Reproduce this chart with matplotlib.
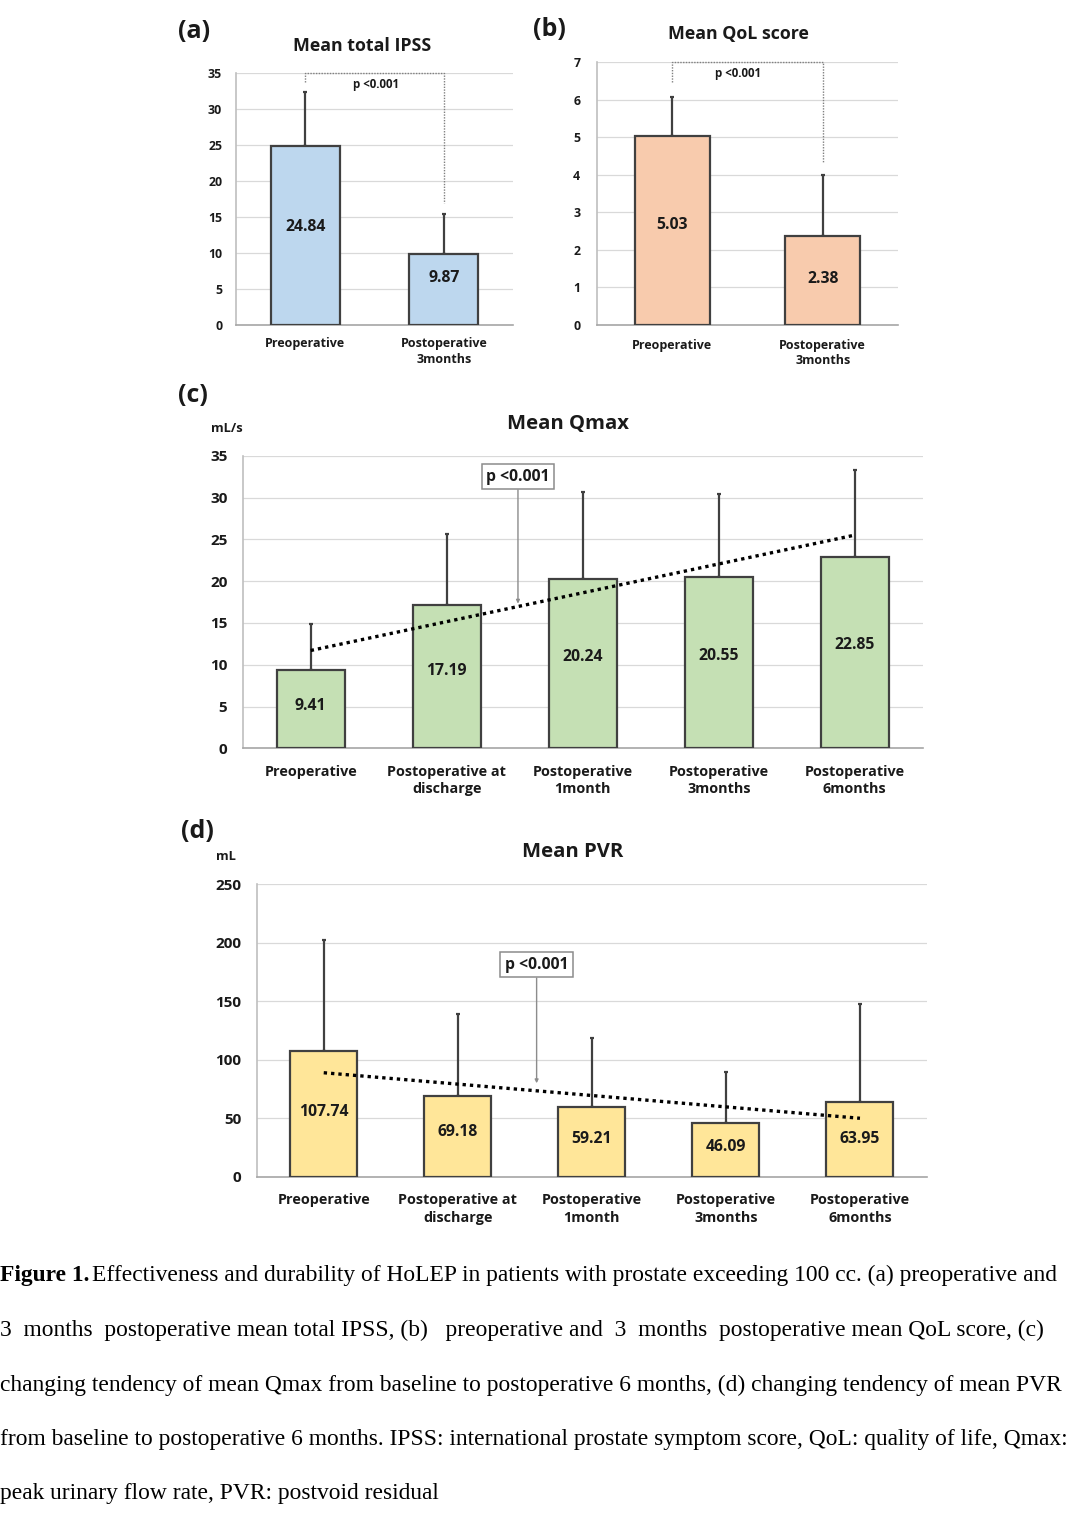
import matplotlib
matplotlib.use("Agg")
import matplotlib.pyplot as plt
import numpy as np

# ---------------- data ----------------
cats_ab = ["Preoperative", "Postoperative\n3months"]
ipss_mean = [24.84, 9.87]
ipss_sd = [7.5, 5.6]
qol_mean = [5.03, 2.38]
qol_sd = [1.04, 1.62]

cats_cd = ["Preoperative", "Postoperative at\ndischarge", "Postoperative\n1month",
           "Postoperative\n3months", "Postoperative\n6months"]
qmax_mean = [9.41, 17.19, 20.24, 20.55, 22.85]
qmax_sd = [5.46, 8.5, 10.46, 9.85, 10.45]
qmax_trend = [11.7, 25.5]   # trend line ends
pvr_mean = [107.74, 69.18, 59.21, 46.09, 63.95]
pvr_sd = [94.5, 69.8, 59.0, 43.6, 83.5]
pvr_trend = [88.8, 49.9]

caption_lines = [
    "Effectiveness and durability of HoLEP in patients with prostate exceeding 100 cc. (a) preoperative and",
    "3  months  postoperative mean total IPSS, (b)   preoperative and  3  months  postoperative mean QoL score, (c)",
    "changing tendency of mean Qmax from baseline to postoperative 6 months, (d) changing tendency of mean PVR",
    "from baseline to postoperative 6 months. IPSS: international prostate symptom score, QoL: quality of life, Qmax:",
    "peak urinary flow rate, PVR: postvoid residual",
]

# ---------------- figure ----------------
W, H = 1080, 1539
fig = plt.figure(figsize=(W / 100, H / 100), dpi=100)
fig.patch.set_facecolor("white")
FONT = "Open Sans"
TXT = "#1a1a1a"
EDGE = "#404040"


def px_axes(left, top, right, bottom):
    return fig.add_axes([left / W, 1 - bottom / H, (right - left) / W, (bottom - top) / H])


def style_axes(ax, ymax, step, tick_fs, cat_fs, cats, ypad, xpad, linesp):
    ax.set_ylim(0, ymax)
    ax.set_xlim(-0.5, len(cats) - 0.5)
    ax.set_yticks(np.arange(0, ymax + 0.001, step))
    ax.set_yticklabels([f"{int(v)}" for v in np.arange(0, ymax + 0.001, step)],
                       fontsize=tick_fs, fontweight="bold", family=FONT, color=TXT)
    ax.set_xticks(range(len(cats)))
    ax.set_xticklabels(cats, fontsize=cat_fs, fontweight="bold", family=FONT, color=TXT,
                       linespacing=linesp)
    ax.tick_params(axis="both", length=0)
    ax.tick_params(axis="y", pad=ypad)
    ax.tick_params(axis="x", pad=xpad)
    ax.grid(axis="y", color="#d9d9d9", lw=0.9)
    ax.set_axisbelow(True)
    for s in ["top", "right"]:
        ax.spines[s].set_visible(False)
    ax.spines["left"].set_color("#bfbfbf")
    ax.spines["bottom"].set_color("#a6a6a6")
    ax.spines["left"].set_linewidth(1.2)
    ax.spines["bottom"].set_linewidth(1.2)


def draw_bars(ax, means, sds, color, label_fs, fracs=None):
    x = np.arange(len(means))
    if fracs is None:
        fracs = [0.54] * len(means)
    ax.errorbar(x, means, yerr=[np.zeros(len(sds)), sds], fmt="none", ecolor=EDGE,
                elinewidth=1.6, capsize=1.2, capthick=1.6, zorder=2)
    ax.bar(x, means, width=0.5, color=color, edgecolor=EDGE, linewidth=1.6, zorder=3)
    for xi, m, f in zip(x, means, fracs):
        ax.text(xi, m * f, f"{m:.2f}", ha="center", va="center", fontsize=label_fs,
                fontweight="bold", family=FONT, color=TXT, zorder=4)


def bracket(ax, y_top, y_left, y_right):
    ax.plot([0, 0, 1, 1], [y_left, y_top, y_top, y_right], color="#808080", lw=1.0,
            ls=(0, (1, 1)), zorder=5, clip_on=False)


def ptext(ax, x, y):
    ax.text(x, y, "p <0.001", ha="center", va="center", fontsize=8.3,
            fontweight="bold", family=FONT, color=TXT)


def pbox(ax, x, ytip, ybox):
    ax.annotate("p <0.001", xy=(x, ytip), xytext=(x, ybox), ha="center", va="center",
                fontsize=11.3, fontweight="bold", family=FONT, color=TXT, zorder=7,
                bbox=dict(boxstyle="square,pad=0.3", fc="white", ec="#8c8c8c", lw=1.1),
                arrowprops=dict(arrowstyle="-|>", color="#8c8c8c", lw=1.0, mutation_scale=5,
                                shrinkA=0, shrinkB=0))


def ftext(x, y, s, fs):
    fig.text(x / W, 1 - y / H, s, ha="center", va="center", fontsize=fs,
             fontweight="bold", family=FONT, color=TXT)


# ---- (a) ----
axa = px_axes(236, 73, 513, 325)
style_axes(axa, 35, 5, 8.8, 9, cats_ab, 10, 9, 1.25)
draw_bars(axa, ipss_mean, ipss_sd, "#BDD7EE", 11.3, fracs=[0.55, 0.66])
bracket(axa, 35, 33.8, 17.0)
ptext(axa, 0.51, 33.4)
ftext(362, 46, "Mean total IPSS", 12.8)
ftext(194, 32, "(a)", 18)

# ---- (b) ----
axb = px_axes(597, 62.3, 898, 325)
style_axes(axb, 7, 1, 8.8, 9, cats_ab, 12, 10, 1.25)
draw_bars(axb, qol_mean, qol_sd, "#F8CBAD", 11.3, fracs=[0.53, 0.52])
bracket(axb, 7, 6.48, 4.35)
ptext(axb, 0.44, 6.71)
ftext(738, 34, "Mean QoL score", 12.8)
ftext(549, 30, "(b)", 18)

# ---- (c) ----
axc = px_axes(242.7, 455.7, 922.7, 748.3)
style_axes(axc, 35, 5, 11, 10.4, cats_cd, 11, 12, 1.3)
draw_bars(axc, qmax_mean, qmax_sd, "#C5E0B4", 11.3)
axc.plot([0, len(qmax_mean) - 1], qmax_trend, color="black", lw=2.4, ls=(0, (1, 1.2)),
         zorder=6)
pbox(axc, 1.524, 17.3, 32.5)
ftext(568, 424, "Mean Qmax", 14.6)
ftext(193, 396, "(c)", 18)
ftext(227, 429, "mL/s", 9.3)

# ---- (d) ----
axd = px_axes(256.7, 884, 927, 1176.7)
style_axes(axd, 250, 50, 11, 10.4, cats_cd, 11, 12, 1.3)
draw_bars(axd, pvr_mean, pvr_sd, "#FFE699", 11.3, fracs=[0.51, 0.55, 0.54, 0.55, 0.5])
axd.plot([0, len(pvr_mean) - 1], pvr_trend, color="black", lw=2.4, ls=(0, (1, 1.2)),
         zorder=6)
pbox(axd, 1.588, 79.8, 181)
ftext(573, 852, "Mean PVR", 14.6)
ftext(197, 831, "(d)", 18)
ftext(226, 857, "mL", 9.3)

# ---- caption ----
cap_y = [1275, 1330, 1385, 1440, 1493]
cap_fs = 16.9
serif = "Liberation Serif"
t0 = fig.text(0 / W, 1 - cap_y[0] / H, "Figure 1.", ha="left", va="center",
              fontsize=cap_fs, fontweight="bold", family=serif, color="black")
fig.canvas.draw()
r = fig.canvas.get_renderer()
bb = t0.get_window_extent(r)
fig.text((bb.x1 + 3) / W, 1 - cap_y[0] / H, caption_lines[0], ha="left", va="center",
         fontsize=cap_fs, family=serif, color="black")
for yy, line in zip(cap_y[1:], caption_lines[1:]):
    fig.text(0, 1 - yy / H, line, ha="left", va="center", fontsize=cap_fs, family=serif,
             color="black")

fig.savefig("out.png", dpi=100, facecolor="white")
